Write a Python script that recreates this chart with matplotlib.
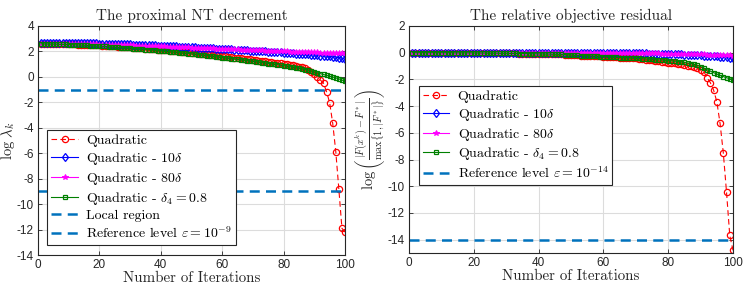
import matplotlib
matplotlib.use("Agg")
import matplotlib.pyplot as plt

plt.rcParams['mathtext.fontset'] = 'cm'
plt.rcParams['axes.unicode_minus'] = False

iters = list(range(1, 101))

# ---- Left panel: proximal NT decrement (log lambda_k) ----
L_quad = [2.62, 2.61, 2.61, 2.60, 2.60, 2.59, 2.59, 2.58, 2.58, 2.57,
          2.56, 2.55, 2.54, 2.53, 2.52, 2.51, 2.50, 2.49, 2.48, 2.47,
          2.45, 2.44, 2.43, 2.41, 2.40, 2.38, 2.37, 2.35, 2.34, 2.32,
          2.30, 2.29, 2.27, 2.25, 2.23, 2.21, 2.19, 2.17, 2.15, 2.13,
          2.11, 2.09, 2.07, 2.05, 2.02, 2.00, 1.98, 1.95, 1.93, 1.90,
          1.88, 1.85, 1.83, 1.80, 1.78, 1.75, 1.72, 1.70, 1.67, 1.64,
          1.61, 1.58, 1.55, 1.52, 1.49, 1.46, 1.43, 1.40, 1.37, 1.34,
          1.31, 1.28, 1.25, 1.22, 1.19, 1.16, 1.12, 1.09, 1.06, 1.02,
          0.98, 0.94, 0.90, 0.86, 0.81, 0.74, 0.66, 0.55, 0.41, 0.20,
          0.01, -0.25, -0.50, -1.17, -2.03, -3.65, -5.88, -8.84, -11.90, -12.20]
L_10d = [2.70, 2.70, 2.70, 2.69, 2.69, 2.69, 2.68, 2.68, 2.68, 2.67,
         2.67, 2.66, 2.66, 2.65, 2.65, 2.64, 2.64, 2.63, 2.63, 2.62,
         2.61, 2.61, 2.60, 2.59, 2.59, 2.58, 2.57, 2.56, 2.56, 2.55,
         2.54, 2.53, 2.52, 2.51, 2.50, 2.49, 2.48, 2.47, 2.46, 2.45,
         2.44, 2.43, 2.42, 2.41, 2.40, 2.38, 2.37, 2.36, 2.35, 2.33,
         2.32, 2.31, 2.30, 2.28, 2.27, 2.26, 2.24, 2.23, 2.22, 2.20,
         2.19, 2.17, 2.16, 2.15, 2.13, 2.12, 2.10, 2.09, 2.07, 2.06,
         2.04, 2.03, 2.01, 2.00, 1.98, 1.97, 1.95, 1.93, 1.92, 1.90,
         1.88, 1.87, 1.85, 1.83, 1.81, 1.80, 1.78, 1.76, 1.74, 1.72,
         1.70, 1.68, 1.66, 1.63, 1.61, 1.58, 1.55, 1.51, 1.46, 1.40]
L_80d = [2.62, 2.62, 2.62, 2.61, 2.61, 2.61, 2.60, 2.60, 2.60, 2.59,
         2.59, 2.58, 2.58, 2.57, 2.57, 2.56, 2.56, 2.55, 2.55, 2.54,
         2.53, 2.53, 2.52, 2.52, 2.51, 2.50, 2.50, 2.49, 2.48, 2.48,
         2.47, 2.46, 2.45, 2.45, 2.44, 2.43, 2.42, 2.41, 2.41, 2.40,
         2.39, 2.38, 2.37, 2.36, 2.35, 2.34, 2.33, 2.32, 2.32, 2.31,
         2.30, 2.29, 2.28, 2.27, 2.26, 2.25, 2.24, 2.23, 2.22, 2.21,
         2.20, 2.19, 2.18, 2.17, 2.16, 2.15, 2.14, 2.13, 2.12, 2.11,
         2.10, 2.09, 2.08, 2.07, 2.06, 2.05, 2.04, 2.03, 2.02, 2.01,
         2.00, 1.99, 1.98, 1.97, 1.97, 1.96, 1.95, 1.94, 1.93, 1.92,
         1.92, 1.91, 1.90, 1.89, 1.89, 1.88, 1.87, 1.86, 1.86, 1.85]
L_d4 = [2.60, 2.59, 2.59, 2.58, 2.58, 2.57, 2.56, 2.56, 2.55, 2.54,
        2.53, 2.52, 2.51, 2.50, 2.49, 2.47, 2.46, 2.45, 2.43, 2.42,
        2.40, 2.39, 2.37, 2.36, 2.34, 2.32, 2.31, 2.29, 2.27, 2.25,
        2.23, 2.21, 2.19, 2.17, 2.15, 2.13, 2.11, 2.09, 2.07, 2.04,
        2.02, 2.00, 1.97, 1.95, 1.93, 1.90, 1.88, 1.85, 1.83, 1.80,
        1.77, 1.75, 1.72, 1.69, 1.67, 1.64, 1.61, 1.58, 1.55, 1.52,
        1.49, 1.46, 1.43, 1.40, 1.37, 1.34, 1.31, 1.28, 1.25, 1.22,
        1.19, 1.15, 1.12, 1.09, 1.05, 1.02, 0.98, 0.95, 0.91, 0.88,
        0.84, 0.80, 0.76, 0.72, 0.68, 0.63, 0.58, 0.53, 0.46, 0.38,
        0.32, 0.25, 0.19, 0.12, 0.05, -0.01, -0.08, -0.16, -0.25, -0.35]
L_local = -1
L_ref = -9

# ---- Right panel: relative objective residual ----
R_quad = [0.00, 0.00, 0.00, 0.00, 0.00, 0.00, 0.00, 0.00, 0.00, 0.00,
          0.00, 0.00, 0.00, -0.01, -0.01, -0.01, -0.01, -0.01, -0.01, -0.02,
          -0.02, -0.02, -0.02, -0.03, -0.03, -0.03, -0.03, -0.04, -0.04, -0.04,
          -0.05, -0.05, -0.05, -0.06, -0.06, -0.07, -0.07, -0.08, -0.08, -0.09,
          -0.09, -0.10, -0.10, -0.11, -0.12, -0.12, -0.13, -0.14, -0.15, -0.16,
          -0.19, -0.20, -0.21, -0.22, -0.23, -0.24, -0.25, -0.27, -0.28, -0.30,
          -0.31, -0.32, -0.33, -0.35, -0.36, -0.37, -0.39, -0.40, -0.42, -0.43,
          -0.45, -0.48, -0.51, -0.54, -0.57, -0.60, -0.63, -0.67, -0.70, -0.74,
          -0.77, -0.80, -0.84, -0.88, -0.92, -0.96, -1.01, -1.07, -1.15, -1.27,
          -1.42, -1.87, -2.24, -2.79, -3.66, -5.28, -7.48, -10.44, -13.68, -14.80]
R_10d = [0.00, 0.01, 0.00, 0.01, 0.00, 0.01, 0.00, 0.01, 0.00, 0.01,
         0.00, 0.01, 0.00, 0.01, 0.00, 0.01, 0.00, 0.01, 0.00, 0.01,
         0.00, 0.01, 0.00, 0.01, 0.00, 0.01, 0.00, 0.01, 0.00, 0.01,
         0.00, 0.01, 0.00, 0.01, 0.00, 0.01, 0.00, 0.01, 0.00, 0.01,
         0.00, 0.01, 0.00, 0.01, 0.00, 0.01, 0.00, 0.01, 0.00, 0.00,
         0.00, 0.00, 0.00, 0.00, 0.00, 0.00, 0.00, 0.00, 0.00, 0.00,
         -0.01, -0.01, -0.01, -0.02, -0.02, -0.02, -0.03, -0.03, -0.03, -0.04,
         -0.04, -0.05, -0.05, -0.06, -0.06, -0.07, -0.07, -0.08, -0.09, -0.09,
         -0.10, -0.11, -0.12, -0.13, -0.14, -0.15, -0.16, -0.17, -0.18, -0.20,
         -0.21, -0.23, -0.24, -0.26, -0.28, -0.30, -0.32, -0.35, -0.38, -0.43]
R_80d = [0.00, 0.00, 0.00, 0.00, 0.00, 0.00, 0.00, 0.00, 0.00, 0.00,
         0.00, 0.00, 0.00, 0.00, 0.00, 0.00, 0.00, 0.00, 0.00, 0.00,
         0.00, 0.00, 0.00, 0.00, 0.00, 0.00, 0.00, 0.00, 0.00, 0.00,
         0.00, 0.00, 0.00, 0.00, 0.00, 0.00, 0.00, 0.00, 0.00, 0.00,
         0.00, 0.00, 0.00, 0.00, 0.00, 0.00, 0.00, 0.00, 0.00, 0.00,
         0.00, 0.00, 0.00, 0.00, 0.00, 0.00, 0.00, 0.00, 0.00, 0.00,
         0.00, 0.00, -0.01, -0.01, -0.01, -0.01, -0.02, -0.02, -0.02, -0.03,
         -0.03, -0.03, -0.04, -0.04, -0.05, -0.05, -0.05, -0.06, -0.06, -0.07,
         -0.07, -0.08, -0.08, -0.09, -0.09, -0.10, -0.11, -0.11, -0.12, -0.13,
         -0.13, -0.14, -0.15, -0.16, -0.16, -0.17, -0.18, -0.19, -0.20, -0.22]
R_d4 = [0.00, 0.00, 0.00, 0.00, 0.00, 0.00, 0.00, 0.00, 0.00, 0.00,
        0.00, 0.00, 0.00, -0.01, -0.01, -0.01, -0.01, -0.01, -0.01, -0.02,
        -0.02, -0.02, -0.02, -0.03, -0.03, -0.03, -0.03, -0.04, -0.04, -0.04,
        -0.05, -0.05, -0.05, -0.06, -0.06, -0.07, -0.07, -0.08, -0.08, -0.09,
        -0.09, -0.10, -0.10, -0.11, -0.12, -0.12, -0.13, -0.14, -0.15, -0.16,
        -0.19, -0.20, -0.21, -0.22, -0.23, -0.25, -0.26, -0.27, -0.29, -0.30,
        -0.31, -0.32, -0.33, -0.34, -0.36, -0.37, -0.38, -0.39, -0.41, -0.42,
        -0.43, -0.45, -0.46, -0.48, -0.49, -0.51, -0.53, -0.55, -0.57, -0.59,
        -0.61, -0.64, -0.66, -0.69, -0.73, -0.77, -0.81, -0.87, -0.95, -1.04,
        -1.15, -1.27, -1.38, -1.49, -1.60, -1.70, -1.79, -1.87, -1.95, -2.02]
R_ref = -14

labels = ['Quadratic', r'Quadratic - 10$\delta$', r'Quadratic - 80$\delta$',
          r'Quadratic - $\delta_4 = 0.8$']
left_extra = ['Local region', r'Reference level $\varepsilon = 10^{-9}$']
right_extra = [r'Reference level $\varepsilon = 10^{-14}$']

REF_BLUE = '#0072BD'
TEXT_FONT = 'cmr10'
TICK_FONT = 'Liberation Sans'

fig = plt.figure(figsize=(7.47, 2.89), dpi=100)
W, H = 747, 289
axL = fig.add_axes([38 / W, 1 - 255 / H, (345 - 38) / W, (255 - 26) / H])
axR = fig.add_axes([409 / W, 1 - 253 / H, (733 - 409) / W, (253 - 26) / H])

styles = [
    dict(color='#FF0000', marker='o', ls=(0, (5, 3)), ms=4.5, mfc='none', mew=0.9, lw=0.8),
    dict(color='#0000FF', marker='d', ls='-', ms=4.5, mfc='none', mew=0.9, lw=0.8),
    dict(color='#FF00FF', marker='*', ls='-', ms=4, mew=0.7, lw=0.8),
    dict(color='#008000', marker='s', ls='-', ms=3.5, mfc='none', mew=0.9, lw=0.8),
]


def style_axes(ax, ylim, yticks):
    ax.set_xlim(0, 100)
    ax.set_ylim(*ylim)
    ax.set_xticks([0, 20, 40, 60, 80, 100])
    ax.set_yticks(yticks)
    ax.set_yticklabels([str(t) for t in yticks])
    ax.grid(True, color='#dcdcdc', lw=0.8)
    ax.set_axisbelow(True)
    ax.tick_params(direction='in', length=3, width=0.6, top=True, right=True,
                   labelsize=8.5, colors='#262626', pad=3)
    for lab in ax.get_xticklabels() + ax.get_yticklabels():
        lab.set_fontfamily(TICK_FONT)
    for s in ax.spines.values():
        s.set_color('#262626')
        s.set_linewidth(0.8)
    ax.set_xlabel('Number of Iterations', fontfamily=TEXT_FONT, fontsize=10.8,
                  color='#262626', labelpad=0)


leg_kw = dict(loc='lower left', fancybox=False, framealpha=1,
              edgecolor='#262626', prop={'family': TEXT_FONT, 'size': 10},
              handlelength=1.9, handletextpad=0.6, labelspacing=0.2,
              borderpad=0.3, borderaxespad=0)

# Left
for ys, st in zip([L_quad, L_10d, L_80d, L_d4], styles):
    axL.plot(iters, ys, **st)
hl1 = axL.axhline(L_local, color=REF_BLUE, lw=1.8, ls=(0, (4, 2.5)))
hl2 = axL.axhline(L_ref, color=REF_BLUE, lw=1.8, ls=(0, (4, 2.5)))
style_axes(axL, (-14, 4), list(range(-14, 5, 2)))
axL.set_title('The proximal NT decrement', fontfamily=TEXT_FONT, fontsize=11,
              color='#262626', pad=4)
axL.set_ylabel(r'$\log\,\lambda_k$', fontsize=10.5, color='#262626', labelpad=0)
handlesL = axL.get_lines()[:4] + [hl1, hl2]
legL = axL.legend(handlesL, labels + left_extra, bbox_to_anchor=(0.03, 0.045), **leg_kw)
legL.get_frame().set_linewidth(0.8)

# Right
for ys, st in zip([R_quad, R_10d, R_80d, R_d4], styles):
    axR.plot(iters, ys, **st)
hr = axR.axhline(R_ref, color=REF_BLUE, lw=1.8, ls=(0, (4, 2.5)))
style_axes(axR, (-15, 2), list(range(-14, 3, 2)))
axR.set_title('The relative objective residual', fontfamily=TEXT_FONT, fontsize=11,
              color='#262626', pad=4)
axR.set_ylabel(r'$\log\left(\frac{|F(x^k)-F^*|}{\max\{1,|F^*|\}}\right)$',
               fontsize=10.5, color='#262626', labelpad=0)
handlesR = axR.get_lines()[:4] + [hr]
legR = axR.legend(handlesR, labels + right_extra, bbox_to_anchor=(0.03, 0.30), **leg_kw)
legR.get_frame().set_linewidth(0.8)

fig.savefig('out.png', dpi=100)
